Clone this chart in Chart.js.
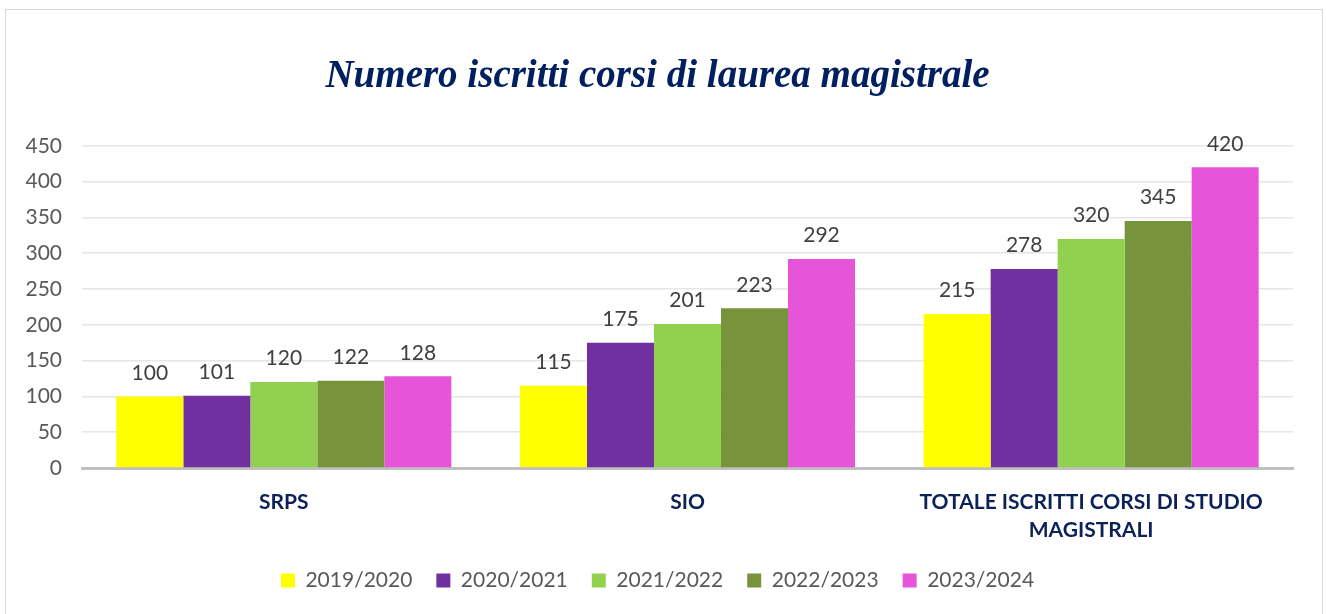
<!DOCTYPE html>
<html lang="it">
  <head>
    <meta charset="UTF-8" />
    <title>Numero iscritti corsi di laurea magistrale</title>
    <script src="https://cdn.jsdelivr.net/npm/chart.js"></script>
    <style>
      body {
        margin: 0;
        background: #fff;
        overflow: hidden;
      }
      .wrap {
        position: relative;
        width: 1326px;
        height: 614px;
      }
      .frame {
        position: absolute;
        left: 5px;
        top: 9px;
        width: 1316px;
        height: 640px;
        border: 1px solid #d9d9d9;
        pointer-events: none;
      }
      canvas {
        position: absolute;
        left: 0;
        top: 0;
      }
    </style>
  </head>
  <body>
    <div class="wrap">
      <canvas id="chart" width="1326" height="614"></canvas>
      <div class="frame"></div>
    </div>

    <script>
      // dati
      const categories = [
        "SRPS",
        "SIO",
        ["TOTALE ISCRITTI CORSI DI STUDIO", "MAGISTRALI"],
      ];
      const years = ["2019/2020", "2020/2021", "2021/2022", "2022/2023", "2023/2024"];
      const v2019 = [100, 115, 215];
      const v2020 = [101, 175, 278];
      const v2021 = [120, 201, 320];
      const v2022 = [122, 223, 345];
      const v2023 = [128, 292, 420];
      const yTicks = [0, 50, 100, 150, 200, 250, 300, 350, 400, 450];

      const colors = ["#FFFF00", "#7030A0", "#92D050", "#77933C", "#E655D9"];
      const series = [v2019, v2020, v2021, v2022, v2023];

      // etichette sopra le barre
      const valueLabels = {
        id: "valueLabels",
        afterDatasetsDraw(chart) {
          const ctx = chart.ctx;
          ctx.save();
          ctx.font = "21px Lato";
          ctx.fillStyle = "#404040";
          ctx.textAlign = "center";
          ctx.textBaseline = "bottom";
          chart.data.datasets.forEach((ds, i) => {
            chart.getDatasetMeta(i).data.forEach((bar, j) => {
              ctx.fillText(ds.data[j], bar.x, bar.y - 13);
            });
          });
          ctx.restore();
        },
      };

      new Chart(document.getElementById("chart"), {
        type: "bar",
        data: {
          labels: categories,
          datasets: series.map((d, i) => ({
            label: years[i],
            data: d,
            backgroundColor: colors[i],
            borderWidth: 0,
            barPercentage: 1,
            categoryPercentage: 0.83,
          })),
        },
        options: {
          responsive: false,
          animation: false,
          layout: { padding: { left: 22, right: 33, bottom: 13 } },
          plugins: {
            title: {
              display: true,
              text: "Numero iscritti corsi di laurea magistrale",
              color: "#002060",
              font: { family: "Liberation Serif", size: 39, style: "italic", weight: "bold" },
              padding: { top: 54, bottom: 45 },
            },
            legend: {
              position: "bottom",
              labels: {
                color: "#595959",
                font: { family: "Lato", size: 21 },
                boxWidth: 14,
                boxHeight: 14,
                padding: 24,
              },
            },
            tooltip: { enabled: false },
          },
          scales: {
            x: {
              grid: { display: false, drawTicks: false },
              border: { color: "#bfbfbf", width: 3 },
              afterFit: (axis) => {
                axis.height = 78;
              },
              ticks: {
                color: "#0d2159",
                font: { family: "Lato", size: 21, weight: "bold", lineHeight: 1.33 },
                padding: 20,
                maxRotation: 0,
              },
            },
            y: {
              min: 0,
              max: 450,
              afterBuildTicks: (axis) => {
                axis.ticks = yTicks.map((v) => ({ value: v }));
              },
              afterFit: (axis) => {
                axis.width = 60;
              },
              grid: { color: "#e6e6e6", lineWidth: 1.5, drawTicks: false },
              border: { display: false },
              ticks: {
                color: "#595959",
                font: { family: "Lato", size: 21 },
                padding: 20,
              },
            },
          },
        },
        plugins: [valueLabels],
      });
    </script>
  </body>
</html>
